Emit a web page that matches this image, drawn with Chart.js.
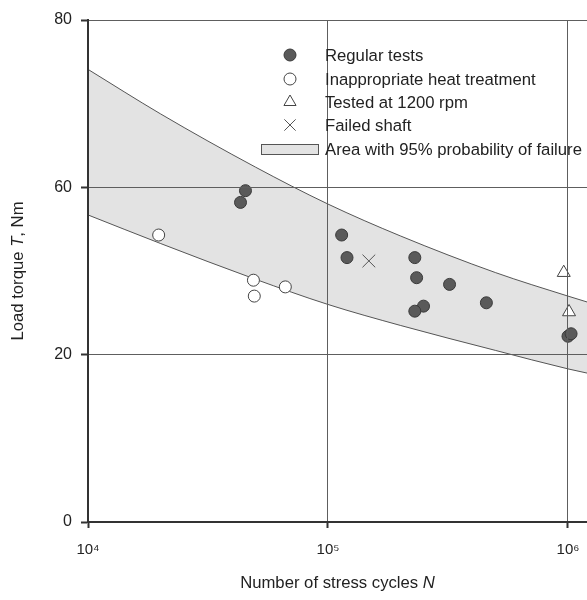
<!DOCTYPE html>
<html>
<head>
<meta charset="utf-8">
<script src="https://cdn.jsdelivr.net/npm/chart.js@4.4.1/dist/chart.umd.min.js"></script>
<style>
  html, body { margin: 0; padding: 0; background: #fff; }
  #wrap { width: 587px; height: 600px; }
</style>
</head>
<body>
<div id="wrap"><canvas id="chart"></canvas></div>
<script>
// y values are on the plotted scale: its four gridlines carry the labels 0, 20, 60, 80
const regularN = [43200, 45300, 114000, 120000, 230000, 234000, 321000, 250000, 230000, 457000, 1000000, 1030000];
const regularT = [38.2, 39.6, 34.3, 31.6, 31.6, 29.2, 28.4, 25.8, 25.2, 26.2, 22.2, 22.5];

const heatN = [19700, 48900, 49300, 66400];
const heatT = [34.3, 28.9, 27.0, 28.1];

const rpmN = [960000, 1010000];
const rpmT = [29.8, 25.1];

const failedN = [148000];
const failedT = [31.2];

// 95% band edges
const bandN = [1e4, 2e4, 5e4, 1e5, 2e5, 5e5, 1e6, 1.2e6];
const bandUpper = [54.1, 48.8, 42.4, 38.0, 34.2, 29.8, 27.0, 26.3];
const bandLower = [36.7, 33.3, 29.0, 26.0, 23.5, 20.5, 18.3, 17.8];

const xTicks = [1e4, 1e5, 1e6];
const xTickLabels = ['10⁴', '10⁵', '10⁶'];
const yTicks = [0, 20, 40, 60];
const yTickLabels = ['0', '20', '60', '80'];

const legendLabels = [
  'Regular tests',
  'Inappropriate heat treatment',
  'Tested at 1200 rpm',
  'Failed shaft',
  'Area with 95% probability of failure',
];
const xTitle = [['Number of stress cycles ', false], ['N', true]];
const yTitle = [['Load torque ', false], ['T', true], [', Nm', false]];

const family = "'Liberation Sans', Arial, sans-serif";
const ink = '#222';
const bandFill = '#e3e3e3';

const pts = (xs, ys) => xs.map((x, i) => ({ x, y: ys[i] }));

// band goes under the markers -> higher order is drawn first
const bandLine = {
  showLine: true,
  pointRadius: 0,
  borderColor: '#555',
  borderWidth: 1,
  cubicInterpolationMode: 'monotone',
  order: 5,
};

const datasets = [
  { ...bandLine, label: 'upper', data: pts(bandN, bandUpper), fill: false },
  { ...bandLine, label: legendLabels[4], data: pts(bandN, bandLower), fill: '-1', backgroundColor: bandFill },
  {
    label: legendLabels[0], data: pts(regularN, regularT), order: 1,
    pointStyle: 'circle', pointRadius: 6, backgroundColor: '#5a5a5a', borderColor: '#3a3a3a', borderWidth: 1,
  },
  {
    label: legendLabels[1], data: pts(heatN, heatT), order: 1,
    pointStyle: 'circle', pointRadius: 6, backgroundColor: '#fff', borderColor: '#444', borderWidth: 1,
  },
  {
    label: legendLabels[2], data: pts(rpmN, rpmT), order: 1,
    pointStyle: 'triangle', pointRadius: 7.5, backgroundColor: '#fff', borderColor: '#444', borderWidth: 1,
  },
  {
    label: legendLabels[3], data: pts(failedN, failedT), order: 1,
    pointStyle: 'crossRot', pointRadius: 9, backgroundColor: '#fff', borderColor: '#555', borderWidth: 1,
  },
];

const drawSegments = (ctx, segs, size, cx, cy) => {
  const fontOf = (it) => (it ? 'italic ' : '') + size + 'px ' + family;
  let total = 0;
  segs.forEach(([t, it]) => { ctx.font = fontOf(it); total += ctx.measureText(t).width; });
  let x = cx - total / 2;
  segs.forEach(([t, it]) => {
    ctx.font = fontOf(it);
    ctx.fillText(t, x, cy);
    x += ctx.measureText(t).width;
  });
};

// titles with italic symbols + legend inside the plot
const decorations = {
  id: 'decorations',
  afterDraw(chart) {
    const { ctx, chartArea } = chart;
    ctx.save();
    ctx.fillStyle = ink;
    ctx.textAlign = 'left';
    ctx.textBaseline = 'middle';

    drawSegments(ctx, xTitle, 16.7, (chartArea.left + chartArea.right) / 2, 583);

    ctx.save();
    ctx.translate(18, (chartArea.top + chartArea.bottom) / 2);
    ctx.rotate(-Math.PI / 2);
    drawSegments(ctx, yTitle, 16.7, 0, 0);
    ctx.restore();

    const rows = [55, 79, 102, 125, 149];
    const mx = 290;
    const tx = 325;
    const marks = [
      { ds: 2, style: 'circle', r: 6 },
      { ds: 3, style: 'circle', r: 6 },
      { ds: 4, style: 'triangle', r: 7 },
      { ds: 5, style: 'crossRot', r: 8 },
    ];
    marks.forEach((m, i) => {
      const ds = chart.data.datasets[m.ds];
      ctx.fillStyle = ds.backgroundColor;
      ctx.strokeStyle = ds.borderColor;
      ctx.lineWidth = 1;
      Chart.helpers.drawPoint(ctx, { pointStyle: m.style, radius: m.r, rotation: 0, borderWidth: 1 }, mx, rows[i]);
    });
    ctx.fillStyle = bandFill;
    ctx.strokeStyle = '#555';
    ctx.lineWidth = 1;
    ctx.fillRect(261, 144, 58, 10);
    ctx.strokeRect(261.5, 144.5, 57, 10);

    ctx.fillStyle = ink;
    ctx.font = '16.7px ' + family;
    legendLabels.forEach((t, i) => ctx.fillText(t, tx, rows[i] + 1));
    ctx.restore();
  },
};

new Chart(document.getElementById('chart'), {
  type: 'scatter',
  data: { datasets },
  plugins: [decorations],
  options: {
    responsive: true,
    maintainAspectRatio: false,
    animation: false,
    devicePixelRatio: 1,
    layout: { autoPadding: false, padding: { top: 20, right: 0, left: 0, bottom: 0 } },
    plugins: { legend: { display: false }, tooltip: { enabled: false } },
    scales: {
      x: {
        type: 'logarithmic',
        min: 1e4,
        max: 1.2e6,
        afterBuildTicks: (s) => { s.ticks = xTicks.map((v) => ({ value: v })); },
        afterFit: (s) => {
          s.height = 78;
          s.paddingLeft = 0;
          s.paddingRight = 0;
        },
        ticks: {
          autoSkip: false,
          maxRotation: 0,
          padding: 13,
          color: ink,
          font: { family, size: 15 },
          callback: (v) => xTickLabels[xTicks.indexOf(v)],
        },
        grid: { z: 1, color: '#5e5e5e', lineWidth: 1, tickLength: 6, tickColor: '#333', tickWidth: 2 },
        border: { z: 2, color: '#333', width: 2 },
      },
      y: {
        min: 0,
        max: 60,
        afterBuildTicks: (s) => { s.ticks = yTicks.map((v) => ({ value: v })); },
        afterFit: (s) => { s.width = 88; },
        ticks: {
          padding: 9,
          color: ink,
          font: { family, size: 16 },
          callback: (v) => yTickLabels[yTicks.indexOf(v)],
        },
        grid: { z: 1, color: '#5e5e5e', lineWidth: 1, tickLength: 7, tickColor: '#333', tickWidth: 2 },
        border: { z: 2, color: '#333', width: 2 },
      },
    },
  },
});
</script>
</body>
</html>
